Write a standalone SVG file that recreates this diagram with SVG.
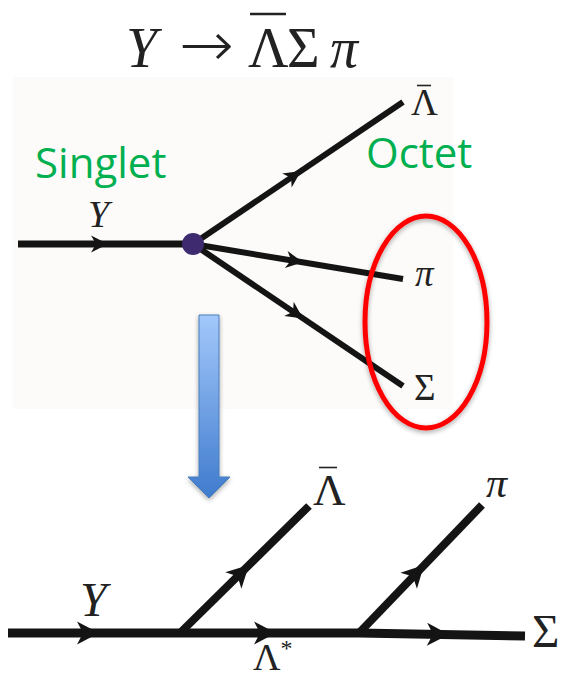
<svg xmlns="http://www.w3.org/2000/svg" width="564" height="679" viewBox="0 0 564 679">
<defs>
<style>
.ln{stroke:#141414;fill:none;stroke-linecap:butt}
.ah{fill:#141414}
.m{font-family:"Liberation Serif","DejaVu Serif",serif;fill:#222}
.it{font-style:italic}
.bar{stroke:#222;stroke-width:1.6}
.g{font-family:"Open Sans","Liberation Sans",sans-serif;fill:#00b050;font-size:42px}
</style>
<linearGradient id="bg" x1="0" y1="0" x2="0" y2="1">
<stop offset="0" stop-color="#a3c8fb"/>
<stop offset="1" stop-color="#3f7bcd"/>
</linearGradient>
<filter id="sh" x="-50%" y="-20%" width="200%" height="140%">
<feGaussianBlur in="SourceAlpha" stdDeviation="2.5"/>
<feOffset dx="0" dy="2" result="b"/>
<feComponentTransfer><feFuncA type="linear" slope="0.35"/></feComponentTransfer>
<feMerge><feMergeNode/><feMergeNode in="SourceGraphic"/></feMerge>
</filter>
<path id="a1" d="M0,0 L-17,-8.5 L-12,0 L-17,8.5 Z"/>
<path id="a2" d="M0,0 L-22,-11.5 L-16,0 L-22,11.5 Z"/>
</defs>
<rect width="564" height="679" fill="#ffffff"/>
<rect x="13" y="77" width="440" height="332" fill="#fcfbf9"/>

<g id="title">
<text class="m" font-size="56" y="67"><tspan class="it" x="126">Y</tspan><tspan x="248">Λ</tspan><tspan x="287">Σ</tspan><tspan class="it" x="330">π</tspan></text>
<text x="179" y="66" font-family="DejaVu Sans, sans-serif" font-weight="200" font-size="62" fill="#222" textLength="55" lengthAdjust="spacingAndGlyphs">→</text>
<line x1="250" y1="14" x2="286" y2="14" stroke="#222" stroke-width="2.5"/>
</g>

<g id="connectors">
<line class="ln" x1="18" y1="244" x2="193" y2="244" stroke-width="7"/>
<line class="ln" x1="193" y1="244" x2="403" y2="102" stroke-width="6"/>
<line class="ln" x1="193" y1="244" x2="403" y2="279" stroke-width="6"/>
<line class="ln" x1="193" y1="244" x2="403" y2="386" stroke-width="6"/>
<use href="#a1" class="ah" transform="translate(108,244)"/>
<use href="#a1" class="ah" transform="translate(301,171) rotate(-34.07)"/>
<use href="#a1" class="ah" transform="translate(303,262.3) rotate(9.46)"/>
<use href="#a1" class="ah" transform="translate(303,318.4) rotate(34.07)"/>

<path class="ln" d="M8,633 L359,633 L525,636" stroke-width="9"/>
<line class="ln" x1="180" y1="633" x2="309" y2="506" stroke-width="8"/>
<line class="ln" x1="359" y1="633" x2="482" y2="505" stroke-width="8"/>
<use href="#a2" class="ah" transform="translate(99,633)"/>
<use href="#a2" class="ah" transform="translate(276,633)"/>
<use href="#a2" class="ah" transform="translate(449,634.6) rotate(1.03)"/>
<use href="#a2" class="ah" transform="translate(249,565) rotate(-44.55)"/>
<use href="#a2" class="ah" transform="translate(424,565) rotate(-45.9)"/>
</g>

<g id="vertex">
<circle cx="193" cy="244" r="11" fill="#3e2a6f"/>
</g>

<g id="labels-top">
<text class="m it" font-size="38" x="88" y="227">Y</text>
<text class="m" font-size="37" x="411" y="115">Λ</text>
<line class="bar" x1="417" y1="85.5" x2="431" y2="85.5"/>
<text class="m it" font-size="37" x="415" y="286">π</text>
<text class="m" font-size="37" x="414" y="400">Σ</text>
</g>

<g id="singlet"><text class="g" x="35" y="178">Singlet</text></g>
<g id="octet"><text class="g" x="366" y="168">Octet</text></g>

<g id="ellipse">
<ellipse cx="426" cy="322" rx="61" ry="106" fill="none" stroke="#ff0000" stroke-width="5" filter="url(#sh)"/>
</g>

<g id="down-arrow" filter="url(#sh)">
<path d="M199,315 L219,315 L219,477 L230,477 L209,498 L188,477 L199,477 Z" fill="url(#bg)" stroke="#4a7ebb" stroke-width="1"/>
</g>

<g id="labels-bottom">
<text class="m it" font-size="48" x="80" y="616">Y</text>
<text class="m" font-size="45" x="313" y="505">Λ</text>
<line class="bar" x1="319" y1="467.5" x2="337" y2="467.5" stroke-width="2"/>
<text class="m it" font-size="42" x="486" y="497">π</text>
<text class="m" font-size="47" x="532" y="647">Σ</text>
<text class="m" font-size="38" x="253" y="670">Λ<tspan font-size="24" dy="-14">*</tspan></text>
</g>
</svg>
